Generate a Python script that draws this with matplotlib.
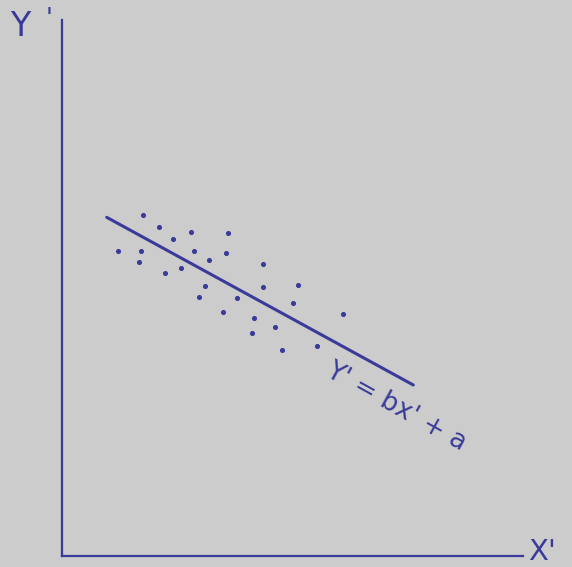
import numpy as np
import matplotlib
matplotlib.use("Agg")
from matplotlib import pyplot as plt

# scatter of standardized scores (x', y')
x_pts = [8.07, 9.73, 12.87, 16.63, 11.07, 5.63, 7.93, 13.2, 16.4, 7.73, 14.67, 20.07, 10.33, 11.9,
         14.3, 20.13, 23.6, 13.7, 17.47, 23.13, 16.13, 28.07, 19.17, 21.3, 19.0, 21.97, 25.53]
y_pts = [34.1, 32.93, 32.43, 32.27, 31.73, 30.53, 30.5, 30.5, 30.33, 29.4, 29.63, 29.2, 28.33, 28.77,
         27.03, 26.93, 27.07, 25.87, 25.8, 25.3, 24.37, 24.17, 23.8, 22.87, 22.27, 20.6, 21.0]

# regression line end points
line_x = [4.47, 35.13]
line_y = [33.87, 17.1]

equation = "Y' = bx' + a"
paper = "#cbcccb"
ink = "#3a3a9a"

fig = plt.figure(figsize=(5.72, 5.67), dpi=100, facecolor=paper)
ax = fig.add_axes([62 / 572, 11 / 567, 461 / 572, 536 / 567])
ax.set_facecolor(paper)
ax.set_xlim(0, 46.1)
ax.set_ylim(0, 53.6)

for s in ["top", "right"]:
    ax.spines[s].set_visible(False)
for s in ["left", "bottom"]:
    ax.spines[s].set_color(ink)
    ax.spines[s].set_linewidth(1.6)
ax.set_xticks([])
ax.set_yticks([])

ax.scatter(x_pts, y_pts, s=7, color=ink, zorder=3)
ax.plot(line_x, line_y, color=ink, lw=2.2, solid_capstyle="round")

ax.text(33.4, 14.9, equation, rotation=-29, rotation_mode="anchor", ha="center", va="center",
        fontsize=19, color=ink, family="DejaVu Sans")

fig.text(20 / 572, 1 - 27 / 567, "Y", fontsize=24, color=ink, ha="center", va="center")
fig.text(49 / 572, 1 - 6 / 567, "'", fontsize=18, color=ink, ha="center", va="top")
fig.text(542 / 572, 1 - 552 / 567, "X'", fontsize=21, color=ink, ha="center", va="center")

fig.savefig("out.png", dpi=100, facecolor=paper)
